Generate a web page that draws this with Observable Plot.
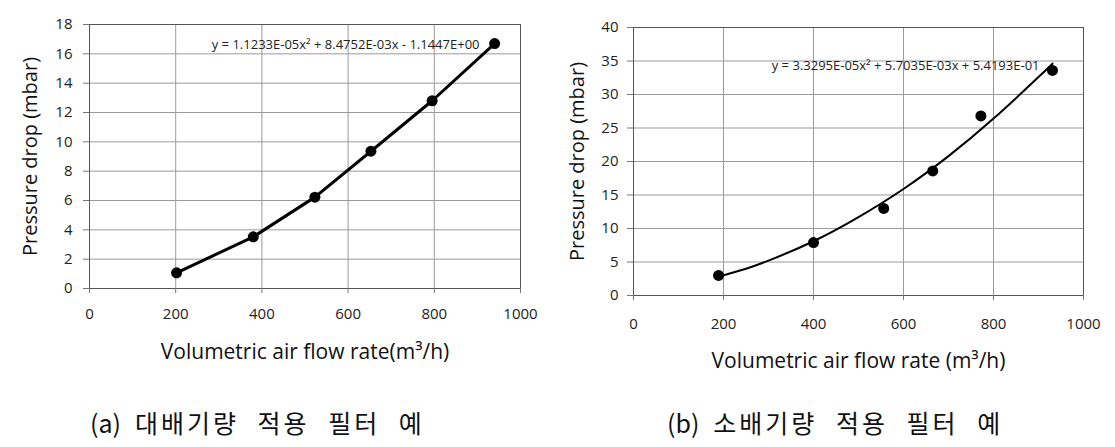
<!DOCTYPE html>
<html>
<head>
<meta charset="utf-8">
<script src="https://cdn.jsdelivr.net/npm/d3@7"></script>
<script src="https://cdn.jsdelivr.net/npm/@observablehq/plot@0.6"></script>
<style>
  html, body { margin: 0; padding: 0; background: #fff; }
  #wrap { position: relative; width: 1115px; height: 447px; overflow: hidden; background: #fff; }
  .chart { position: absolute; top: 0; }
  .cap { position: absolute; font-family: "Noto Sans CJK KR", sans-serif; font-size: 25px; color: #111; white-space: nowrap; letter-spacing: 3px; word-spacing: 10px; line-height: 1; }
  .cap .pre { letter-spacing: 0; margin-right: 14px; }
</style>
</head>
<body>
<div id="wrap">
  <div id="a" class="chart" style="left:0px"></div>
  <div id="b" class="chart" style="left:557px"></div>
  <div class="cap" id="capA" style="left:90px; top:410px"><span class="pre"></span><span class="txt"></span></div>
  <div class="cap" id="capB" style="left:667px; top:410px"><span class="pre"></span><span class="txt"></span></div>
</div>
<script>
// ---- data ----
const xTicks = [0, 200, 400, 600, 800, 1000];
const yTicksA = [0, 2, 4, 6, 8, 10, 12, 14, 16, 18];
const yTicksB = [0, 5, 10, 15, 20, 25, 30, 35, 40];

const flowA = [202, 380, 523, 653, 795, 940];
const dropA = [1.07, 3.52, 6.23, 9.36, 12.8, 16.7];

const flowB = [189, 400, 556, 665, 772, 931];
const dropB = [3.0, 7.9, 13.0, 18.6, 26.8, 33.6];

// trend curve of (b)
const trendFlowB = [189, 250, 300, 400, 500, 600, 700, 800, 900, 931];
const trendDropB = [2.8, 4.0, 5.2, 8.1, 11.7, 15.9, 20.8, 26.4, 32.6, 34.6];

const eqA = "y = 1.1233E-05x² + 8.4752E-03x - 1.1447E+00";
const eqB = "y = 3.3295E-05x² + 5.7035E-03x + 5.4193E-01";

const xTitleA = "Volumetric air flow rate(m³/h)";
const xTitleB = "Volumetric air flow rate (m³/h)";
const yTitle = "Pressure drop (mbar)";
const captionPrefix = ["(a)", "(b)"];
const captionText = ["대배기량 적용 필터 예", "소배기량 적용 필터 예"];

const ptsA = flowA.map((x, i) => ({x, y: dropA[i]}));
const ptsB = flowB.map((x, i) => ({x, y: dropB[i]}));
const trendB = trendFlowB.map((x, i) => ({x, y: trendDropB[i]}));

const font = "'Open Sans', sans-serif";

function chart(o) {
  return Plot.plot({
    width: o.width, height: o.height,
    marginLeft: o.ml, marginRight: o.mr, marginTop: o.mt, marginBottom: o.mb,
    style: {fontFamily: font, background: "transparent", color: "#222", overflow: "visible"},
    x: {domain: [0, 1000]},
    y: {domain: o.ydomain},
    marks: [
      Plot.gridX(xTicks, {stroke: "#9a9a9a", strokeOpacity: 1}),
      Plot.gridY(o.yticks, {stroke: "#9a9a9a", strokeOpacity: 1}),
      Plot.frame({stroke: "#555", strokeWidth: 1}),
      Plot.axisX(xTicks, {tickSize: 5, tickPadding: o.xpad, fontSize: 15, label: null, stroke: "#777", tickFormat: d3.format("d")}),
      Plot.axisY(o.yticks, {tickSize: 6, tickPadding: o.ypad, fontSize: 15, label: null, stroke: "#777", tickFormat: d3.format("d")}),
      ...o.lines,
      Plot.dot(o.pts, {x: "x", y: "y", r: 5.5, fill: "#000", stroke: "none"}),
      Plot.text([o.eq], {frameAnchor: "top-right", textAnchor: "end", lineAnchor: "middle", dx: o.eqdx, dy: o.eqdy, fontSize: 13, fill: "#222"}),
      Plot.text([o.xTitle], {frameAnchor: "bottom", textAnchor: "middle", lineAnchor: "middle", dy: o.xtdy, fontSize: 21, fill: "#111"}),
      Plot.text([yTitle], {frameAnchor: "left", textAnchor: "middle", lineAnchor: "middle", rotate: -90, dx: -o.ytdx, fontSize: 20, fill: "#111"})
    ]
  });
}

document.getElementById("a").append(chart({
  width: 557, height: 380, ml: 89, mr: 37, mt: 24, mb: 92,
  ydomain: [0, 18], yticks: yTicksA, pts: ptsA,
  lines: [Plot.line(ptsA, {x: "x", y: "y", stroke: "#000", strokeWidth: 3})],
  xpad: 15, ypad: 11, eq: eqA, eqdx: -41, eqdy: 20,
  xTitle: xTitleA, xtdy: 64, ytdx: 59
}));

document.getElementById("b").append(chart({
  width: 558, height: 385, ml: 76, mr: 32, mt: 27, mb: 90,
  ydomain: [0, 40], yticks: yTicksB, pts: ptsB,
  lines: [Plot.line(trendB, {x: "x", y: "y", stroke: "#000", strokeWidth: 2, curve: "natural"})],
  xpad: 18, ypad: 9, eq: eqB, eqdx: -44, eqdy: 38,
  xTitle: xTitleB, xtdy: 66, ytdx: 56
}));

["capA", "capB"].forEach((id, i) => {
  const el = document.getElementById(id);
  el.querySelector(".pre").textContent = captionPrefix[i];
  el.querySelector(".txt").textContent = captionText[i];
});
</script>
</body>
</html>
